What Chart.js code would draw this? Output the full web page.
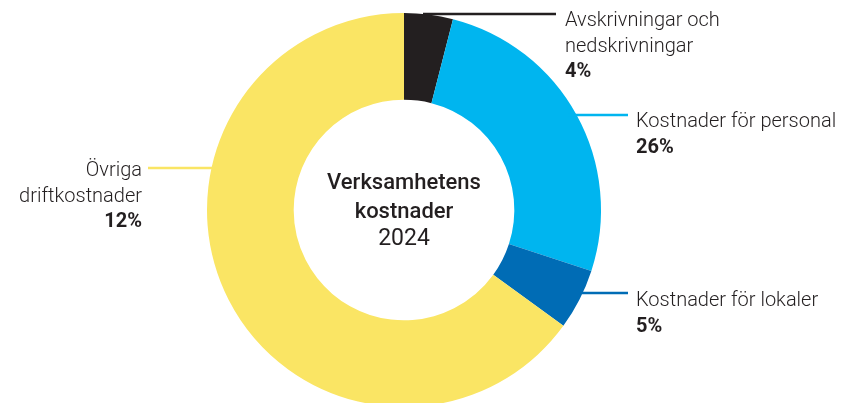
<!DOCTYPE html>
<html>
<head>
<meta charset="utf-8">
<script src="https://cdn.jsdelivr.net/npm/chart.js@4"></script>
<style>
    html, body { margin: 0; padding: 0; background: #fff; overflow: hidden; }
    #wrap { position: relative; width: 843px; height: 420px; }
</style>
</head>
<body>
<div id="wrap"><canvas id="costChart"></canvas></div>
<script>
// Chart data
const categories = ['Avskrivningar och nedskrivningar', 'Kostnader för personal', 'Kostnader för lokaler', 'Övriga driftkostnader'];
const shares = [4, 26, 5, 65];                  // drawn slice sizes
const shareLabels = ['4%', '26%', '5%', '12%'];  // printed labels
const colors = ['#231f20', '#00b5ef', '#006cb5', '#fae564'];
const centerLines = ['Verksamhetens', 'kostnader', '2024'];

// Label layout: text lines, anchor, leader line
const labelLayout = [
    { lines: ['Avskrivningar och', 'nedskrivningar'], x: 565, y: 21, align: 'left', lineY: 14, lineFrom: 423, lineTo: 556 },
    { lines: ['Kostnader för personal'], x: 636, y: 122, align: 'left', lineY: 115, lineFrom: 568, lineTo: 628 },
    { lines: ['Kostnader för lokaler'], x: 636, y: 301, align: 'left', lineY: 293, lineFrom: 582, lineTo: 628 },
    { lines: ['Övriga', 'driftkostnader'], x: 142, y: 171, align: 'right', lineY: 168, lineFrom: 148, lineTo: 212 }
];

const TEXT = '#231f20';
const FONT = 'Roboto, "Liberation Sans", Arial, sans-serif';

// Draws the center title, leader lines and slice labels
const labelPlugin = {
    id: 'labelPlugin',
    afterDraw(chart) {
        const ctx = chart.ctx;
        const arc = chart.getDatasetMeta(0).data[0];
        ctx.save();
        ctx.fillStyle = TEXT;
        ctx.textAlign = 'center';
        ctx.textBaseline = 'middle';
        ctx.font = '500 22px ' + FONT;
        ctx.fillText(centerLines[0], arc.x, 183);
        ctx.fillText(centerLines[1], arc.x, 212);
        ctx.font = '400 23px ' + FONT;
        ctx.fillText(centerLines[2], arc.x, 239);

        labelLayout.forEach((lab, i) => {
            ctx.strokeStyle = colors[i];
            ctx.lineWidth = 2.5;
            ctx.beginPath();
            ctx.moveTo(lab.lineFrom, lab.lineY);
            ctx.lineTo(lab.lineTo, lab.lineY);
            ctx.stroke();

            ctx.textAlign = lab.align;
            ctx.fillStyle = TEXT;
            ctx.font = '300 20px ' + FONT;
            lab.lines.forEach((line, j) => {
                ctx.fillText(line, lab.x, lab.y + j * 26);
            });
            ctx.font = '700 20px ' + FONT;
            ctx.fillText(shareLabels[i], lab.x, lab.y + lab.lines.length * 25.5);
        });
        ctx.restore();
    }
};

document.addEventListener('DOMContentLoaded', () => {
    const ctx = document.getElementById('costChart').getContext('2d');
    new Chart(ctx, {
        type: 'doughnut',
        data: {
            labels: categories,
            datasets: [{
                data: shares,
                backgroundColor: colors,
                borderWidth: 0
            }]
        },
        options: {
            responsive: true,
            maintainAspectRatio: false,
            animation: false,
            cutout: '56%',
            layout: { padding: { left: 207, right: 242, top: 13, bottom: 13 } },
            plugins: {
                legend: { display: false },
                tooltip: { enabled: false }
            }
        },
        plugins: [labelPlugin]
    });
});
</script>
</body>
</html>
